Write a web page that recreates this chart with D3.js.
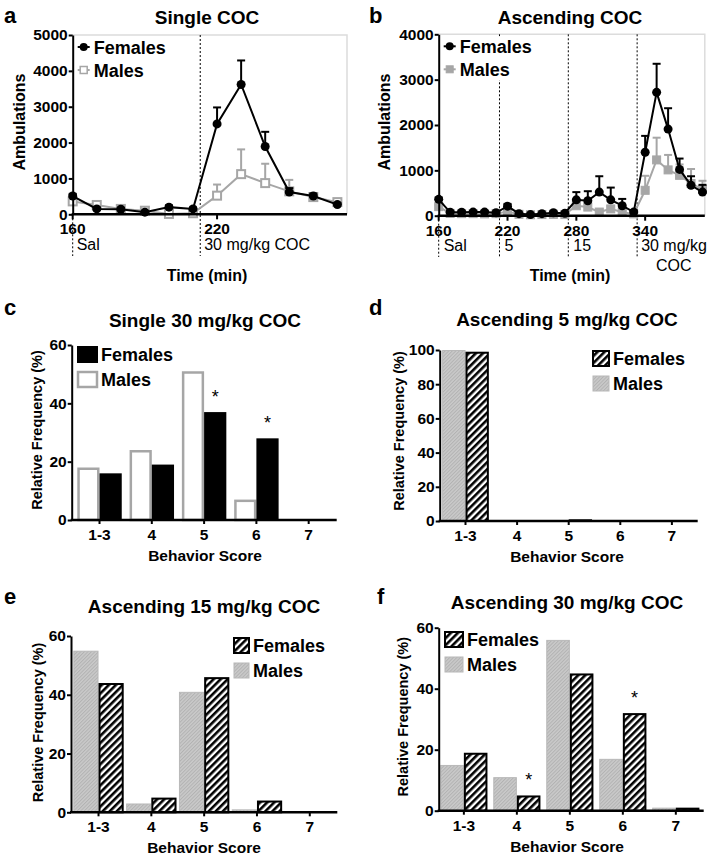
<!DOCTYPE html>
<html><head><meta charset="utf-8">
<script src="https://cdn.jsdelivr.net/npm/d3@7"></script>
<style>body{margin:0;background:#fff}svg{display:block}</style>
</head><body><svg id="fig" width="714" height="859"></svg>
<script>
// ---------- DATA ----------
const timeA = [160,170,180,190,200,210,220,230,240,250,260,270];
const femA = [510,150,140,60,200,150,2520,3620,1890,620,510,270];
const femAErr = [60,40,40,30,50,40,460,670,410,110,70,50];
const maleA = [360,260,150,100,10,30,520,1120,870,640,480,340];
const maleAErr = [50,40,30,40,20,20,310,690,540,320,80,60];

const timeB = [160,170,180,190,200,210,220,230,240,250,260,270,280,290,300,310,320,330,340,350,360,370,380,390];
const femB = [360,75,75,80,80,65,210,45,25,45,65,55,350,330,520,350,220,80,1400,2720,1910,1020,670,520];
const femBErr = [40,20,20,20,20,20,50,15,15,15,20,15,170,210,350,270,150,40,360,630,460,240,200,160];
const maleB = [200,50,45,45,40,45,90,30,20,25,30,25,220,190,80,150,75,40,560,1230,1010,890,710,580];
const maleBErr = [30,15,15,15,15,15,30,10,10,10,10,10,80,70,40,60,40,20,320,490,330,240,320,190];

const ticksA_y = [0,1000,2000,3000,4000,5000];
const ticksB_y = [0,1000,2000,3000,4000];
const ticksA_x = [160,220];
const ticksB_x = [160,220,280,340];
const injA = [160,213];
const injB = [160,213,273,333];

const scoreCats = ["1-3","4","5","6","7"];
const femC = [16,19,37,28,0];
const maleC = [18,24,51,7,0];
const femD = [99,0,1,0,0];
const maleD = [100,0,0,0,0];
const femE = [44,5,46,4,0];
const maleE = [55,3,41,1,0];
const femF = [19,5,45,32,1];
const maleF = [15,11,56,17,1];
const sigC = ["5","6"];
const sigF = ["4","6"];
const ticks60 = [0,20,40,60];
const ticks100 = [0,20,40,60,80,100];

// ---------- SETUP ----------
const FONT = '"Liberation Sans", Arial, Helvetica, sans-serif';
const GRAY = "#a6a6a6";
const svg = d3.select("#fig").attr("font-family", FONT);
const defs = svg.append("defs");
const fh = defs.append("pattern").attr("id","fhatch").attr("patternUnits","userSpaceOnUse")
  .attr("width",5).attr("height",5).attr("patternTransform","rotate(45)");
fh.append("rect").attr("width",5).attr("height",5).attr("fill","#fff");
fh.append("rect").attr("width",2.6).attr("height",5).attr("fill","#000");
const mh = defs.append("pattern").attr("id","mhatch").attr("patternUnits","userSpaceOnUse")
  .attr("width",2.5).attr("height",2.5).attr("patternTransform","rotate(45)");
mh.append("rect").attr("width",2.5).attr("height",2.5).attr("fill","#cacaca");
mh.append("rect").attr("width",1).attr("height",2.5).attr("fill","#b2b2b2");

function txt(g, s, x, y, o={}) {
  return g.append("text").attr("x",x).attr("y",y).text(s)
    .attr("font-size",o.size||16).attr("font-weight",o.weight||"bold")
    .attr("text-anchor",o.anchor||"start").attr("fill","#000");
}
function vtxt(g, s, cx, cy, size) {
  g.append("text").attr("transform",`translate(${cx},${cy}) rotate(-90)`)
    .attr("text-anchor","middle").attr("dominant-baseline","central")
    .attr("font-size",size).attr("font-weight","bold").text(s);
}
function yAxis(g, y, ax, ticks) {
  const a = g.append("g").attr("transform",`translate(${ax},0)`)
    .call(d3.axisLeft(y).tickValues(ticks).tickFormat(d3.format("d")).tickSize(4).tickPadding(1).tickSizeOuter(0));
  a.attr("font-family",FONT);
  a.select(".domain").attr("stroke","#000").attr("stroke-width",2);
  a.selectAll(".tick line").attr("stroke","#000").attr("stroke-width",2);
  a.selectAll(".tick text").attr("font-size",15.5).attr("font-weight","bold").attr("fill","#000");
}

// ---------- LINE CHARTS ----------
function lineChart(o) {
  const g = svg.append("g");
  const x = d3.scaleLinear().domain(o.xDomain).range(o.xRange);
  const y = d3.scaleLinear().domain([0,o.yMax]).range([o.y0,o.yTop]);
  g.append("path").attr("d",`M${o.xRange[0]},${o.yTop}H${o.xRange[1]}V${o.y0}`)
    .attr("fill","none").attr("stroke","#dcdcdc").attr("stroke-width",1.5);
  o.inj.forEach((t,i)=>{
    g.append("line").attr("x1",x(t)).attr("x2",x(t))
      .attr("y1", i===0 ? o.y0 : o.yTop).attr("y2", o.dashBottom)
      .attr("stroke","#000").attr("stroke-width",1).attr("stroke-dasharray","2,2");
  });
  g.append("rect").attr("x",o.xRange[0]+2).attr("y",o.yTop+2).attr("width",o.legW).attr("height",44).attr("fill","#fff");
  const line = d3.line().x((d,i)=>x(o.t[i])).y(d=>y(d));
  function series(vals, errs, col) {
    vals.forEach((v,i)=>{
      const cx = x(o.t[i]), top = y(v+errs[i]);
      g.append("line").attr("x1",cx).attr("x2",cx).attr("y1",y(v)).attr("y2",top).attr("stroke",col).attr("stroke-width",2);
      g.append("line").attr("x1",cx-4).attr("x2",cx+4).attr("y1",top).attr("y2",top).attr("stroke",col).attr("stroke-width",2);
    });
    g.append("path").datum(vals).attr("d",line).attr("fill","none").attr("stroke",col).attr("stroke-width",2);
  }
  series(o.male, o.maleErr, GRAY);
  g.selectAll(null).data(o.male).enter().append("rect")
    .attr("x",(d,i)=>x(o.t[i])-4).attr("y",d=>y(d)-4).attr("width",8).attr("height",8)
    .attr("fill", o.openMale ? "#fff" : GRAY).attr("stroke",GRAY).attr("stroke-width", o.openMale?2:1);
  series(o.fem, o.femErr, "#000");
  g.selectAll(null).data(o.fem).enter().append("circle")
    .attr("cx",(d,i)=>x(o.t[i])).attr("cy",d=>y(d)).attr("r",4.5).attr("fill","#000");
  yAxis(g, y, o.xRange[0], o.yTicks);
  g.append("line").attr("x1",o.xRange[0]-1).attr("x2",o.xRange[1]).attr("y1",o.y0).attr("y2",o.y0)
    .attr("stroke","#000").attr("stroke-width",2.5);
  o.xTicks.forEach(t=>{
    g.append("line").attr("x1",x(t)).attr("x2",x(t)).attr("y1",o.y0).attr("y2",o.y0+5).attr("stroke","#000").attr("stroke-width",2);
    txt(g, String(t), x(t), o.y0+20, {size:15.5, anchor:"middle"});
  });
  const lx = o.xRange[0]+11;
  g.append("line").attr("x1",lx-6).attr("x2",lx+6).attr("y1",o.yTop+12).attr("y2",o.yTop+12).attr("stroke","#000").attr("stroke-width",2);
  g.append("circle").attr("cx",lx).attr("cy",o.yTop+12).attr("r",4).attr("fill","#000");
  txt(g,"Females",lx+10,o.yTop+18.5,{size:18});
  g.append("line").attr("x1",lx-6).attr("x2",lx+6).attr("y1",o.yTop+35).attr("y2",o.yTop+35).attr("stroke",GRAY).attr("stroke-width",2);
  g.append("rect").attr("x",lx-3.5).attr("y",o.yTop+31.5).attr("width",7).attr("height",7)
    .attr("fill",o.openMale?"#fff":GRAY).attr("stroke",GRAY).attr("stroke-width",o.openMale?1.5:1);
  txt(g,"Males",lx+10,o.yTop+41.5,{size:18});
  o.doseLabels.forEach(d=>txt(g,d[0],x(d[1])+d[2],d[3],{size:16,weight:"normal",anchor:d[4]||"start"}));
  txt(g,o.title,o.titleX,24,{size:19,anchor:"middle"});
  txt(g,o.letter,o.letterX,23,{size:22});
  vtxt(g,"Ambulations",o.ylabX,122,16);
  txt(g,"Time (min)",o.titleX,281,{size:16,anchor:"middle"});
}

lineChart({t:timeA, fem:femA, femErr:femAErr, male:maleA, maleErr:maleAErr, openMale:true,
  xDomain:[160,274], xRange:[72.7,347], yMax:5000, y0:214.3, yTop:35, yTicks:ticksA_y, xTicks:ticksA_x,
  inj:injA, dashBottom:256, legW:95,
  doseLabels:[["Sal",160,4,250],["30 mg/kg COC",213,4,250]],
  title:"Single COC", titleX:207, letter:"a", letterX:4, ylabX:19});

lineChart({t:timeB, fem:femB, femErr:femBErr, male:maleB, maleErr:maleBErr, openMale:false,
  xDomain:[160,392], xRange:[438.7,704.8], yMax:4000, y0:215.7, yTop:34.3, yTicks:ticksB_y, xTicks:ticksB_x,
  inj:injB, dashBottom:257, legW:72,
  doseLabels:[["Sal",160,5,251],["5",213,5,251],["15",273,5,251],["30 mg/kg",333,4,251],["COC",365,0,271,"middle"]],
  title:"Ascending COC", titleX:570, letter:"b", letterX:369, ylabX:384.5});

// ---------- BAR CHARTS ----------
function barChart(o) {
  const g = svg.append("g");
  const x0 = d3.scaleBand().domain(scoreCats).range(o.range).paddingInner(o.pi).paddingOuter(o.po);
  const x1 = d3.scaleBand().domain(["m","f"]).range([0,x0.bandwidth()]);
  const y = d3.scaleLinear().domain([0,o.yMax]).range([o.y0,o.yTop]);
  const mStyle = o.open ? {fill:"#fff",stroke:GRAY,sw:2.5} : {fill:"url(#mhatch)",stroke:"#b8b8b8",sw:1};
  const fStyle = o.open ? {fill:"#000",stroke:"#000",sw:0} : {fill:"url(#fhatch)",stroke:"#000",sw:2};
  function bars(vals, key, st) {
    vals.forEach((v,i)=>{
      if (v<=0) return;
      const bx = x0(scoreCats[i])+x1(key), bw = x1.bandwidth();
      const ins = st.sw/2;
      g.append("rect").attr("x",bx+ins).attr("y",y(v)+ins).attr("width",bw-2*ins)
        .attr("height",Math.max(0.5,o.y0-y(v)-ins)).attr("fill",st.fill).attr("stroke",st.sw?st.stroke:"none").attr("stroke-width",st.sw);
    });
  }
  bars(o.male,"m",mStyle);
  bars(o.fem,"f",fStyle);
  (o.sig||[]).forEach(c=>{
    const i = scoreCats.indexOf(c);
    txt(g,"*",x0(c)+x1("f")+x1.bandwidth()/2, y(o.fem[i])-9,{size:18,weight:"normal",anchor:"middle"});
  });
  yAxis(g, y, o.range[0], o.yTicks);
  g.append("line").attr("x1",o.range[0]-1).attr("x2",o.axEnd).attr("y1",o.y0).attr("y2",o.y0).attr("stroke","#000").attr("stroke-width",2.5);
  scoreCats.forEach(c=>{
    const cx = x0(c)+x0.bandwidth()/2;
    g.append("line").attr("x1",cx).attr("x2",cx).attr("y1",o.y0).attr("y2",o.y0+4).attr("stroke","#000").attr("stroke-width",2);
    txt(g,c,cx,o.y0+20,{size:15.5,anchor:"middle"});
  });
  const L = o.leg;
  g.append("rect").attr("x",L.x+(o.open?0:1)).attr("y",L.y+(o.open?0:1)).attr("width",L.w-(o.open?0:2)).attr("height",17-(o.open?0:2))
    .attr("fill",fStyle.fill).attr("stroke",fStyle.sw?fStyle.stroke:"none").attr("stroke-width",fStyle.sw);
  txt(g,"Females",L.x+L.w+3,L.y+15,{size:18});
  g.append("rect").attr("x",L.x+1).attr("y",L.y+25+1).attr("width",L.w-2).attr("height",15)
    .attr("fill",mStyle.fill).attr("stroke",mStyle.stroke).attr("stroke-width",mStyle.sw);
  txt(g,"Males",L.x+L.w+3,L.y+40,{size:18});
  txt(g,o.title,o.titleX,o.titleY,{size:19,anchor:"middle"});
  txt(g,o.letter,o.letterX,o.letterY,{size:22});
  vtxt(g,"Relative Frequency (%)",o.ylabX,o.ylabY,14.5);
  txt(g,"Behavior Score",o.titleX,o.y0+41,{size:15.5,anchor:"middle"});
}

barChart({male:maleC, fem:femC, open:true, sig:sigC, range:[71.7,336.5], pi:0.15, po:0.107, axEnd:336.7,
  yMax:60, y0:520, yTop:345, yTicks:ticks60, leg:{x:77,y:346,w:21},
  title:"Single 30 mg/kg COC", titleX:205, titleY:326.5, letter:"c", letterX:4, letterY:315, ylabX:36.7, ylabY:430});
barChart({male:maleD, fem:femD, open:false, range:[439.7,697.7], pi:0.095, po:0.0475, axEnd:697.7,
  yMax:100, y0:521, yTop:350, yTicks:ticks100, leg:{x:592,y:350,w:18},
  title:"Ascending 5 mg/kg COC", titleX:567, titleY:326, letter:"d", letterX:369, letterY:315, ylabX:398.7, ylabY:431});
barChart({male:maleE, fem:femE, open:false, range:[71,337.3], pi:0.046, po:0.044, axEnd:337.3,
  yMax:60, y0:812.3, yTop:636, yTicks:ticks60, leg:{x:233,y:637,w:17},
  title:"Ascending 15 mg/kg COC", titleX:204, titleY:613, letter:"e", letterX:4, letterY:604, ylabX:38.3, ylabY:722.5});
barChart({male:maleF, fem:femF, open:false, sig:sigF, range:[438.7,701], pi:0.11, po:0.03, axEnd:703.7,
  yMax:60, y0:810.7, yTop:627.7, yTicks:ticks60, leg:{x:444,y:631,w:20},
  title:"Ascending 30 mg/kg COC", titleX:567, titleY:609, letter:"f", letterX:377, letterY:604, ylabX:402.5, ylabY:716.7});
</script></body></html>
